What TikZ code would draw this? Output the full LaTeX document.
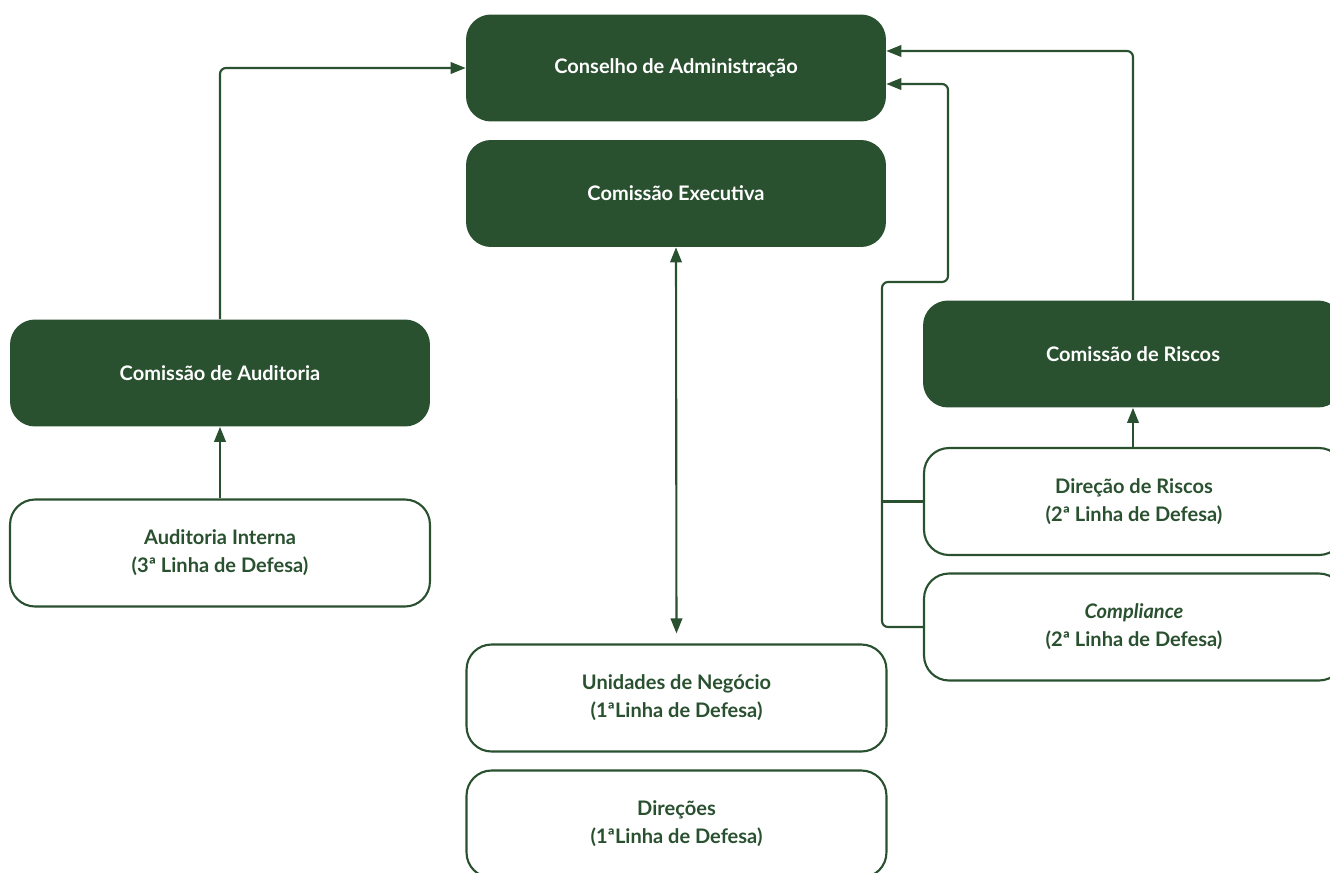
\documentclass[tikz,border=0pt]{standalone}
\usepackage{fontspec}
\setmainfont{Lato}
\usetikzlibrary{arrows.meta,positioning}

\definecolor{verde}{RGB}{41,80,47}

\tikzset{
  caixa/.style={rounded corners=0.5cm, minimum width=8.4cm, minimum height=2.14cm,
    align=center, font=\fontsize{11.4}{16}\selectfont\bfseries, inner sep=0pt},
  cheia/.style={caixa, fill=verde, text=white},
  vazia/.style={caixa, draw=verde, line width=1.2pt, fill=white, text=verde},
  seta/.style={draw=verde, line width=1.2pt, -{Triangle[length=0.3cm,width=0.23cm]}},
  liga/.style={draw=verde, line width=1.2pt, rounded corners=0.12cm}
}

\begin{document}
\begin{tikzpicture}[x=0.02cm, y=-0.02cm]
    \useasboundingbox (0,0) rectangle (1330,873);

    % Central column
    \node[cheia] (conselho) at (676,68) {Conselho de Administração};
    \node[cheia] (executiva) at (676,193.5) {Comissão Executiva};
    \node[vazia] (unidades) at (676.5,698) {Unidades de Negócio\\(1ªLinha de Defesa)};
    \node[vazia] (direcoes) at (676.5,824) {Direções\\(1ªLinha de Defesa)};

    % Left column
    \node[cheia] (comaud) at (220,373) {Comissão de Auditoria};
    \node[vazia] (audint) at (220,553) {Auditoria Interna\\(3ª Linha de Defesa)};

    % Right column
    \node[cheia] (comris) at (1133,354) {Comissão de Riscos};
    \node[vazia] (dirris) at (1134,501.5) {Direção de Riscos\\(2ª Linha de Defesa)};
    \node[vazia] (compl) at (1134,627) {\textit{Compliance}\\(2ª Linha de Defesa)};

    % Bend points
    \coordinate (barra) at (882,282);
    \coordinate (subida) at (948,84);

    % Connectors
    \draw[seta] (audint.north) -- (comaud.south);
    \draw[seta, rounded corners=0.12cm] (comaud.north) |- (conselho.west);
    \draw[seta, {Triangle[length=0.3cm,width=0.23cm]}-{Triangle[length=0.3cm,width=0.23cm]}, shorten >=0.2cm]
        (executiva.south) -- (unidades.north);
    \draw[seta] (comris.south |- dirris.north) -- (comris.south);
    \draw[seta, rounded corners=0.12cm] (comris.north) |- ([yshift=0.34cm]conselho.east);
    \draw[seta, rounded corners=0.12cm] (compl.west) -| (barra) -| (subida)
        -- ([yshift=-0.32cm]conselho.east);
    \draw[liga] (dirris.west) -- (dirris.west -| barra);
\end{tikzpicture}
\end{document}
